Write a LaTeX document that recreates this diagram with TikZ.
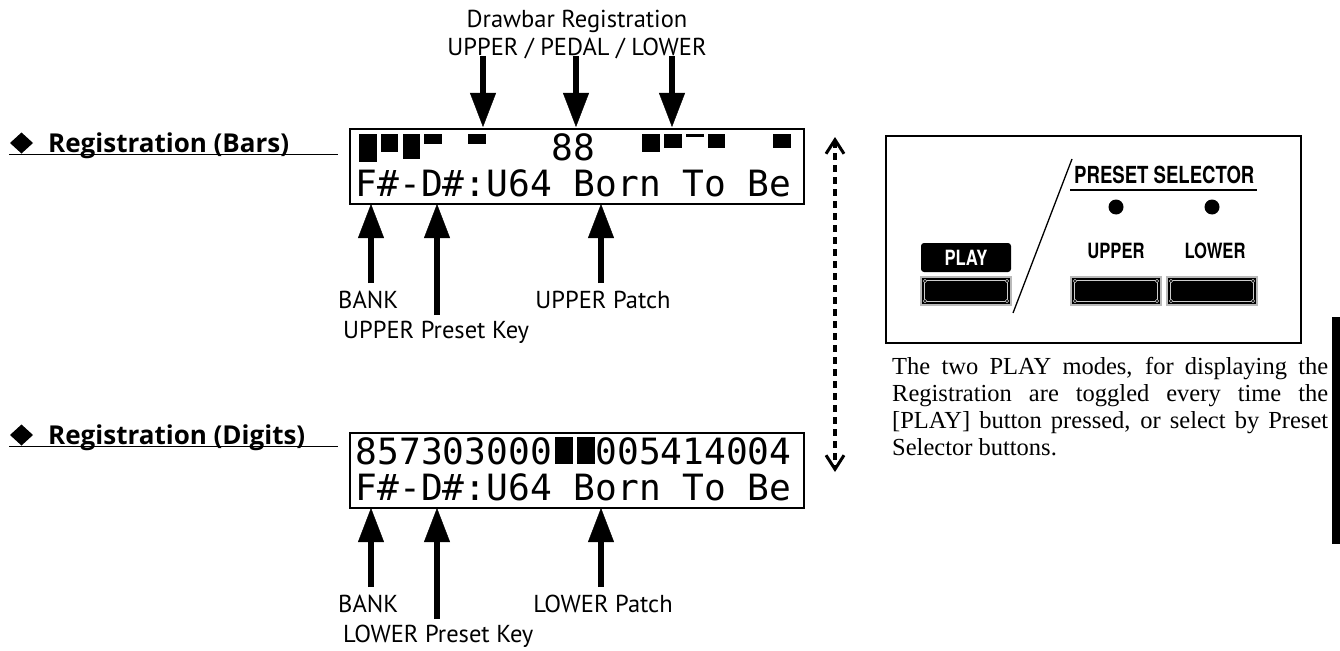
\documentclass[tikz,border=0pt]{standalone}
\usepackage{fontspec}
\setmainfont{Liberation Serif}
\newfontfamily\labelfont{PT Sans}
\newfontfamily\titlefont{Open Sans}
\newfontfamily\lcdfont{DejaVu Sans Mono}
\newfontfamily\panelfont[FakeStretch=0.79]{TeX Gyre Heros}
\usetikzlibrary{arrows.meta}

\begin{document}
\begin{tikzpicture}[x=1pt,y=-1pt,
	bigarrow/.style={line width=6.5pt,-{Triangle[length=34pt,width=26pt,line width=0.4pt]}},
	dotarrow/.style={line width=3.2pt,dash pattern=on 7pt off 5pt,
		{Straight Barb[length=14pt,width=18pt,line width=3pt]}-{Straight Barb[length=14pt,width=18pt,line width=3pt]}},
	lcdbox/.style={draw,line width=1.8pt,inner sep=0,minimum width=454pt,minimum height=75pt,anchor=north west},
	lcdtext/.style={anchor=base west,inner sep=0,font=\fontsize{36.2}{36}\lcdfont},
	note/.style={inner sep=0,font=\fontsize{24.5}{28}\labelfont},
	title/.style={anchor=base west,inner sep=0,font=\fontsize{26}{30}\titlefont\bfseries},
	panel/.style={inner sep=0,font=\fontsize{21}{24}\panelfont\bfseries},
	body/.style={anchor=base west,inner sep=0,font=\fontsize{24.5}{27}\selectfont}]
	
	\useasboundingbox (0,0) rectangle (1340,650);
	
	% Tieu de ben trai
	\fill (10,143) -- (21.5,132.5) -- (33,143) -- (21.5,153.5) -- cycle;
	\node[title] (barsLbl) at (48,152) {Registration (Bars)};
	\draw[line width=1.8pt] (9,154.5) -- (338,154.5);
	
	\fill (10,435) -- (21.5,424.5) -- (33,435) -- (21.5,445.5) -- cycle;
	\node[title] (digitsLbl) at (48,444) {Registration (Digits)};
	\draw[line width=1.8pt] (9,446.5) -- (338,446.5);
	
	% Man hinh 1 (Bars)
	\node[lcdbox] (lcdA) at (349,128) {};
	\foreach \i/\lv in {0/8,1/5,2/7,3/3,5/3,13/5,14/4,15/1,16/4,19/4}
		\fill (359+21.8*\i,133.5) rectangle ++(17.5,3.6*\lv);
	\node[lcdtext] (pedalA) at (355.5+21.8*9,160) {88};
	\node[lcdtext] (rowA) at (355.5,196) {F\#-D\#:U64 Born To Be};
	
	% Man hinh 2 (Digits)
	\node[lcdbox] (lcdB) at (349,432) {};
	\node[lcdtext] (digitsB) at (355.5,464) {857303000~~005414004};
	\foreach \i in {9,10}
		\fill (359+21.8*\i,437) rectangle ++(17.5,27);
	\node[lcdtext] (rowB) at (355.5,500) {F\#-D\#:U64 Born To Be};
	
	% Drawbar Registration
	\node[note,anchor=base] (drawbar) at (577,28) {Drawbar Registration};
	\node[note,anchor=base] (drawsub) at (577,56) {UPPER / PEDAL / LOWER};
	\coordinate (upTip) at (483,127);
	\coordinate (pedTip) at (576,127);
	\coordinate (lowTip) at (672,127);
	\draw[bigarrow] (drawsub.base -| upTip) -- (upTip);
	\draw[bigarrow] (drawsub.base -| pedTip) -- (pedTip);
	\draw[bigarrow] (drawsub.base -| lowTip) -- (lowTip);
	
	% Chu thich man hinh 1
	\node[note,anchor=base west] (bankA) at (338,308) {BANK};
	\node[note,anchor=base west] (keyA) at (343,338) {UPPER Preset Key};
	\node[note,anchor=base] (patchA) at (603,308) {UPPER Patch};
	\coordinate (bankAtip) at (371,204);
	\coordinate (keyAtip) at (437,204);
	\coordinate (patchAtip) at (601,204);
	\draw[bigarrow] (371,283) -- (bankAtip);
	\draw[bigarrow] (437,315) -- (keyAtip);
	\draw[bigarrow] (601,283) -- (patchAtip);
	
	% Chu thich man hinh 2
	\node[note,anchor=base west] (bankB) at (338,612) {BANK};
	\node[note,anchor=base west] (keyB) at (343,642) {LOWER Preset Key};
	\node[note,anchor=base] (patchB) at (603,612) {LOWER Patch};
	\coordinate (bankBtip) at (371,508);
	\coordinate (keyBtip) at (437,508);
	\coordinate (patchBtip) at (601,508);
	\draw[bigarrow] (371,587) -- (bankBtip);
	\draw[bigarrow] (437,619) -- (keyBtip);
	\draw[bigarrow] (601,587) -- (patchBtip);
	
	% Mui ten hai chieu
	\coordinate (swTop) at (835,137);
	\coordinate (swBot) at (835,472);
	\draw[dotarrow] (swTop) -- (swBot);
	
	% Bang dieu khien
	\draw[line width=1.6pt] (886,136) rectangle (1301,343);
	\draw[line width=1.3pt] (1072,159) -- (1013,313);
	\node[panel,font=\fontsize{23.5}{26}\panelfont\bfseries,anchor=base west] (selLbl) at (1074,183) {PRESET SELECTOR};
	\draw[line width=2.2pt] (1070,190) -- (1257,190);
	\fill (1116,207) circle (7.5pt);
	\fill (1212,207) circle (7.5pt);
	\node[panel,anchor=base] (upLbl) at (1116,258) {UPPER};
	\node[panel,anchor=base] (lowLbl) at (1215,258) {LOWER};
	\fill[rounded corners=3pt] (921,243) rectangle (1011,272);
	\node[panel,text=white,anchor=base] (playLbl) at (966,265) {PLAY};
	
	% Nut bam
	\foreach \bx in {921,1071,1167}{
		\fill (\bx,277) rectangle ++(90,28);
		\draw[gray!55,line width=1.6pt] (\bx,277) rectangle ++(90,28);
		\draw[gray!40,line width=0.7pt,rounded corners=2pt] (\bx+3.5,280.5) rectangle ++(83,21);
		\foreach \cx/\cy in {4/281,86/281,4/301,86/301}
			\draw[gray!45,fill=black,line width=0.6pt] (\bx+\cx,\cy) circle (1.8pt);
	}
	
	% Doan van
	\node[body] (modesA) at (892,374) {\makebox[436pt][s]{The two PLAY modes, for displaying the}};
	\node[body] (modesB) at (892,401) {\makebox[436pt][s]{Registration are toggled every time the}};
	\node[body] (modesC) at (892,428) {\makebox[436pt][s]{[PLAY] button pressed, or select by Preset}};
	\node[body] (modesD) at (892,455) {Selector buttons.};
	
	% Thanh den ben phai
	\fill (1332,317) rectangle (1340,544);
\end{tikzpicture}
\end{document}
